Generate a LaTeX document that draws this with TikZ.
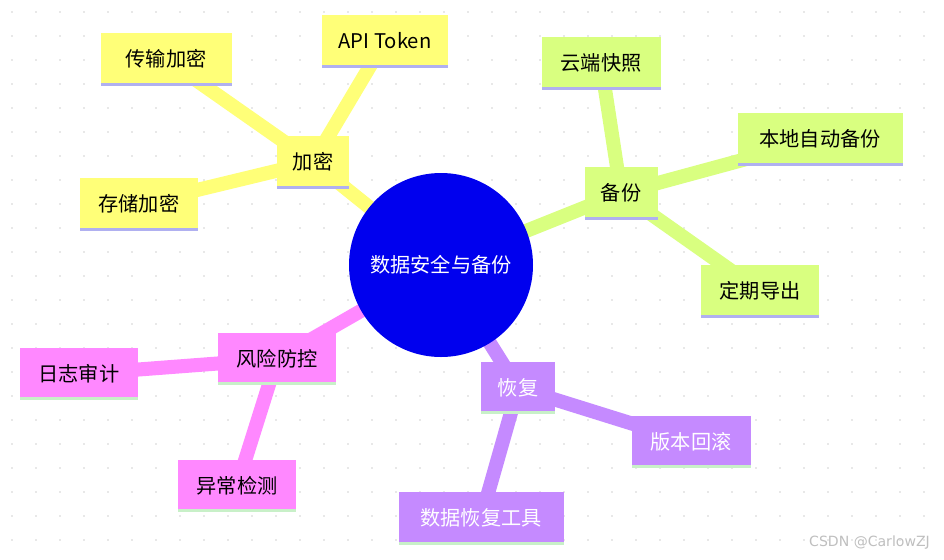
\documentclass[tikz,border=0pt]{standalone}
\usepackage{fontspec}
\newfontfamily\cjk{Noto Sans CJK SC}
\usetikzlibrary{backgrounds}
\definecolor{yel}{HTML}{FFFF78}
\definecolor{grn}{HTML}{D9FF80}
\definecolor{pnk}{HTML}{FF88FF}
\definecolor{pur}{HTML}{C58AFF}
\definecolor{lav}{HTML}{B0B0F0}
\definecolor{lgr}{HTML}{C8F0C8}
\definecolor{blu}{HTML}{0000EE}
\tikzset{
 x=0.02cm,y=-0.02cm,
 box/.style={font=\cjk\fontsize{11.5}{13}\selectfont,inner sep=0pt,anchor=center},
 link/.style={line width=8pt},
}
\begin{document}
\begin{tikzpicture}
\useasboundingbox (0,0) rectangle (944,559);
\def\mk#1#2#3#4#5#6#7#8{%
 \fill[#6] (#2-#4/2,#3-#5/2) rectangle (#2+#4/2,#3+#5/2);
 \fill[#7] (#2-#4/2,#3+#5/2-3) rectangle (#2+#4/2,#3+#5/2);
 \node[box] (#1) at (#2,#3) {#8};}
\mk{jm}{313}{162}{72}{53}{yel}{lav}{加密}
\mk{cs}{166}{59}{131}{53}{yel}{lav}{传输加密}
\mk{api}{385}{41}{126}{53}{yel}{lav}{API Token}
\mk{cc}{139}{204}{118}{53}{yel}{lav}{存储加密}
\mk{bf}{621}{193}{73}{53}{grn}{lav}{备份}
\mk{yd}{601}{63}{119}{53}{grn}{lav}{云端快照}
\mk{bd}{820}{139}{165}{53}{grn}{lav}{本地自动备份}
\mk{dq}{760}{291}{118}{53}{grn}{lav}{定期导出}
\mk{fx}{277}{359}{118}{52}{pnk}{lgr}{风险防控}
\mk{rz}{79}{374}{118}{52}{pnk}{lgr}{日志审计}
\mk{yc}{237}{486}{118}{52}{pnk}{lgr}{异常检测}
\mk{hf}{518}{388}{74}{52}{pur}{lgr}{\color{white}恢复}
\mk{bb}{691}{442}{119}{52}{pur}{lgr}{\color{white}版本回滚}
\mk{sj}{481}{518}{165}{53}{pur}{lgr}{\color{white}数据恢复工具}
\node[circle,fill=blu,minimum size=184*0.02cm,inner sep=0pt,text=white,font=\cjk\fontsize{11.5}{13}\selectfont] (c) at (441,265) {数据安全与备份};
\node[font=\fontspec{DejaVu Sans}\fontsize{8}{10}\selectfont,text=gray!50,anchor=east] (wm) at (936,543) {CSDN @CarlowZJ};
\begin{scope}[on background layer]
 \fill[white] (0,0) rectangle (944,559);
 \foreach \i in {0,...,39} \foreach \j in {0,...,23}
   \fill[gray!35] (12+\i*24,12+\j*24) circle (0.8);
 \draw[link,yel] (c.center) -- (jm.center);
 \draw[link,yel] (jm.center) -- (cs.center);
 \draw[link,yel] (jm.center) -- (api.center);
 \draw[link,yel] (jm.center) -- (cc.center);
 \draw[link,grn] (c.center) -- (bf.center);
 \draw[link,grn] (bf.center) -- (yd.center);
 \draw[link,grn] (bf.center) -- (bd.center);
 \draw[link,grn] (bf.center) -- (dq.center);
 \draw[link,pnk] (c.center) -- (fx.center);
 \draw[link,pnk] (fx.center) -- (rz.center);
 \draw[link,pnk] (fx.center) -- (yc.center);
 \draw[link,pur] (c.center) -- (hf.center);
 \draw[link,pur] (hf.center) -- (bb.center);
 \draw[link,pur] (hf.center) -- (sj.center);
\end{scope}
\end{tikzpicture}
\end{document}
